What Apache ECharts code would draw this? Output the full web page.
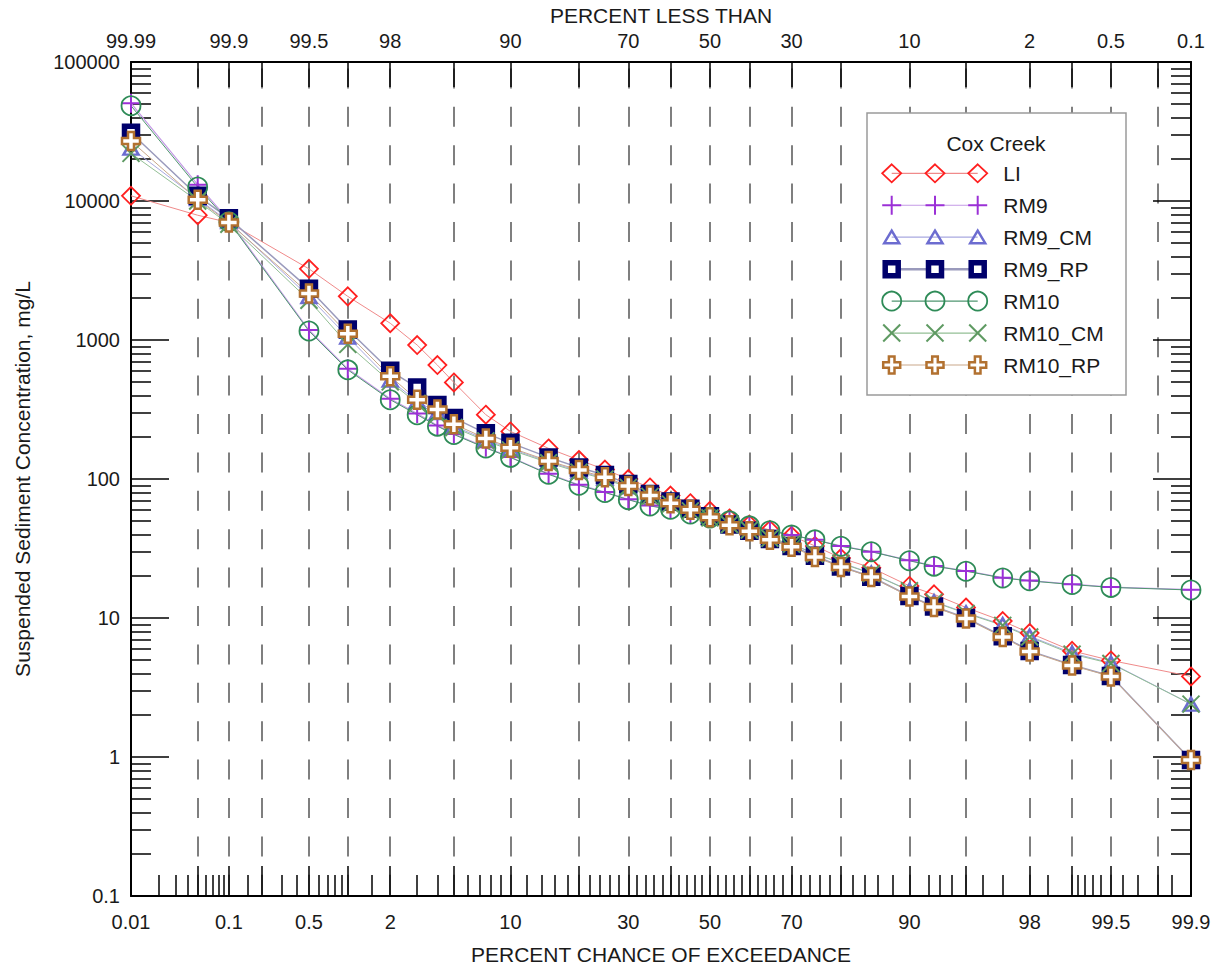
<!DOCTYPE html>
<html><head><meta charset="utf-8">
<script src="https://cdn.jsdelivr.net/npm/echarts@6/dist/echarts.min.js"></script>
<style>html,body{margin:0;padding:0;background:#fff}#c{width:1222px;height:970px}</style>
</head><body><div id="c"></div>
<script>
// ---------- data ----------
const percentExceed = [0.01, 0.05, 0.1, 0.5, 1, 2, 3, 4, 5, 7.5, 10, 15, 20, 25, 30, 35, 40, 45, 50, 55, 60, 65, 70, 75, 80, 85, 90, 92.5, 95, 97, 98, 99, 99.5, 99.9];
const LI      = [10900, 7900, 7000, 3250, 2060, 1320, 920, 660, 495, 290, 220, 166, 137, 117, 100, 87, 76, 67, 59, 52, 47, 43, 39, 33, 27, 23, 17, 14.8, 11.9, 9.5, 7.8, 5.8, 4.95, 3.8];
const RM9     = [50500, 13100, 7250, 1180, 620, 378, 296, 243, 211, 169, 144, 109, 91, 80.5, 71.5, 64.5, 60.5, 56, 53, 50, 46, 42.5, 39.5, 36.5, 33, 30, 26, 23.7, 21.8, 19.5, 18.6, 17.5, 16.7, 16];
const RM9_CM  = [24000, 10400, 7100, 2050, 1050, 515, 362, 300, 240, 192, 165, 133, 114, 101, 88, 76, 67, 60, 53, 47, 43, 37.5, 34, 29, 25, 21, 15.8, 13.1, 10.9, 8.95, 7.4, 5.6, 4.75, 2.4];
const RM9_RP  = [31000, 10900, 7500, 2340, 1190, 600, 455, 340, 275, 213, 182, 143, 121, 107, 92, 78, 69, 61, 54, 47, 42.5, 37, 33, 28, 23.5, 19.8, 14.4, 12.1, 10, 7.4, 5.8, 4.6, 3.83, 0.95];
const RM10    = [48500, 12600, 7100, 1160, 610, 372, 290, 240, 209, 167, 143, 108, 90, 80, 71, 64, 60.5, 56, 52.5, 50, 46, 42.5, 39.5, 36.5, 32.8, 30, 25.8, 23.6, 21.7, 19.4, 18.5, 17.4, 16.6, 15.9];
const RM10_CM = [22000, 10000, 6800, 1930, 930, 500, 350, 290, 235, 188, 162, 131, 112, 100, 87, 75, 66, 59, 52.5, 47, 43, 37.5, 34, 29, 24.8, 20.9, 15.7, 13, 10.8, 8.85, 7.3, 5.5, 4.7, 2.4];
const RM10_RP = [27000, 10200, 7000, 2160, 1110, 548, 372, 316, 248, 196, 168, 135, 116, 103, 89, 76, 67, 60, 53, 46.5, 42, 36.5, 32.5, 27.5, 23.3, 19.7, 14.3, 12, 9.9, 7.3, 5.75, 4.55, 3.8, 0.95];

const bottomTickLabels = ['0.01', '0.1', '0.5', '2', '10', '30', '50', '70', '90', '98', '99.5', '99.9'];
const topTickLabels    = ['99.99', '99.9', '99.5', '98', '90', '70', '50', '30', '10', '2', '0.5', '0.1'];
const gridPercents  = [0.01, 0.05, 0.1, 0.2, 0.5, 1, 2, 5, 10, 20, 30, 40, 50, 60, 70, 80, 90, 95, 98, 99, 99.5, 99.8, 99.9];
const minorPercents = [0.02, 0.03, 0.04, 0.06, 0.07, 0.08, 0.09, 0.15, 0.3, 0.4, 0.6, 0.7, 0.8, 0.9, 1.5, 3, 4, 6, 7, 8, 9,
  12, 14, 16, 18, 22, 24, 26, 28, 32, 34, 36, 38, 42, 44, 46, 48, 52, 54, 56, 58, 62, 64, 66, 68, 72, 74, 76, 78,
  82, 84, 86, 88, 92, 93, 94, 96, 97, 98.5, 99.1, 99.2, 99.3, 99.4, 99.6, 99.7, 99.85];
const yTickLabels = ['0.1', '1', '10', '100', '1000', '10000', '100000'];
const yMajor = [0.1, 1, 10, 100, 1000, 10000, 100000];
const yMinor = [];
for (let d = -1; d < 5; d++) for (let k = 2; k <= 9; k++) yMinor.push(+(k * Math.pow(10, d)).toPrecision(3));

// ---------- normal probability scale ----------
function probit(p) {
  const a = [-3.969683028665376e+01, 2.209460984245205e+02, -2.759285104469687e+02, 1.383577518672690e+02, -3.066479806614716e+01, 2.506628277459239e+00];
  const b = [-5.447609879822406e+01, 1.615858368580409e+02, -1.556989798598866e+02, 6.680131188771972e+01, -1.328068155288572e+01];
  const c = [-7.784894002430293e-03, -3.223964580411365e-01, -2.400758277161838e+00, -2.549732539343734e+00, 4.374664141464968e+00, 2.938163982698783e+00];
  const d = [7.784695709041462e-03, 3.224671290700398e-01, 2.445134137142996e+00, 3.754408661907416e+00];
  const pl = 0.02425, ph = 1 - pl;
  let q, r;
  if (p < pl) { q = Math.sqrt(-2 * Math.log(p)); return (((((c[0]*q+c[1])*q+c[2])*q+c[3])*q+c[4])*q+c[5]) / ((((d[0]*q+d[1])*q+d[2])*q+d[3])*q+1); }
  if (p <= ph) { q = p - 0.5; r = q*q; return (((((a[0]*r+a[1])*r+a[2])*r+a[3])*r+a[4])*r+a[5])*q / (((((b[0]*r+b[1])*r+b[2])*r+b[3])*r+b[4])*r+1); }
  q = Math.sqrt(-2 * Math.log(1 - p)); return -(((((c[0]*q+c[1])*q+c[2])*q+c[3])*q+c[4])*q+c[5]) / ((((d[0]*q+d[1])*q+d[2])*q+d[3])*q+1);
}
const z = pct => probit(pct / 100);
const xMin = z(0.01), xMax = z(99.9);
const gridZ = gridPercents.map(z);
const minorZ = minorPercents.map(z);
const majorZ = bottomTickLabels.map(s => z(parseFloat(s)));
function labelFor(list) {
  return v => { let best = 0, bd = 1e9; majorZ.forEach((m, i) => { const dd = Math.abs(m - v); if (dd < bd) { bd = dd; best = i; } }); return list[best]; };
}

const FONT = '"Liberation Sans", Arial, Helvetica, sans-serif';
const TXT = '#1a1a1a';

// ---------- series styling ----------
const P = {
  diamond: 'path://M0,-10L10,0L0,10L-10,0Z',
  plus: 'path://M-10,0L10,0M0,-10L0,10',
  x: 'path://M-10,-10L10,10M-10,10L10,-10',
  cross: 'path://M-3,-9L3,-9L3,-3L9,-3L9,3L3,3L3,9L-3,9L-3,3L-9,3L-9,-3L-3,-3Z',
  tri: 'path://M0,-9L10,8L-10,8Z'
};
const seriesDefs = [
  { name: 'LI', data: LI, symbol: P.diamond, size: 18, fill: 'rgba(0,0,0,0)', stroke: '#ff2020', bw: 1.8, line: '#f08a8a', lw: 1 },
  { name: 'RM9', data: RM9, symbol: P.plus, size: 19, fill: 'rgba(0,0,0,0)', stroke: '#9b30d6', bw: 2, line: '#c49ae6', lw: 1.2 },
  { name: 'RM9_CM', data: RM9_CM, symbol: P.tri, size: [15, 13], fill: 'rgba(0,0,0,0)', stroke: '#6c6cd0', bw: 2.5, line: '#a9a9e0', lw: 1 },
  { name: 'RM9_RP', data: RM9_RP, symbol: 'rect', size: 13, fill: '#ffffff', stroke: '#00006b', bw: 5.5, line: '#9a9abc', lw: 1.5 },
  { name: 'RM10', data: RM10, symbol: 'circle', size: 19, fill: 'rgba(0,0,0,0)', stroke: '#2e8b57', bw: 1.8, line: '#4f9670', lw: 1 },
  { name: 'RM10_CM', data: RM10_CM, symbol: P.x, size: 17, fill: 'rgba(0,0,0,0)', stroke: '#5e9a62', bw: 2, line: '#93bf95', lw: 1 },
  { name: 'RM10_RP', data: RM10_RP, symbol: P.cross, size: 18, fill: '#ffffff', stroke: '#b27130', bw: 2.5, line: '#c9a88a', lw: 1 }
];

const series = seriesDefs.map(s => ({
  name: s.name, type: 'line', xAxisIndex: 0, yAxisIndex: 0,
  data: percentExceed.map((p, i) => [z(p), s.data[i]]),
  symbol: s.symbol, symbolSize: s.size, showSymbol: true, showAllSymbol: true,
  clip: false, silent: true, animation: false,
  lineStyle: { color: s.line, width: s.lw },
  itemStyle: { color: s.fill, borderColor: s.stroke, borderWidth: s.bw },
  emphasis: { disabled: true }
}));

// ---------- legend drawn as graphics ----------
const legendEls = [];
const LX = 867, LY = 113, LW = 259, LH = 282;
legendEls.push({ type: 'rect', shape: { x: LX, y: LY, width: LW, height: LH }, style: { fill: '#fff', stroke: '#9a9a9a', lineWidth: 1.5 }, z: 100 });
legendEls.push({ type: 'text', x: 996, y: 143, style: { text: 'Cox Creek', font: '21px ' + FONT, fill: TXT, align: 'center', verticalAlign: 'middle' }, z: 101 });
const mx = [891.7, 935, 977.7];
function markerEls(kind, cx, cy, s) {
  const st = { stroke: s.stroke, lineWidth: s.bw, fill: s.fill === '#ffffff' ? '#fff' : 'none' };
  switch (kind) {
    case 'LI': return [{ type: 'polygon', shape: { points: [[cx, cy - 9], [cx + 9.5, cy], [cx, cy + 9], [cx - 9.5, cy]] }, style: st }];
    case 'RM9': return [{ type: 'line', shape: { x1: cx - 9.5, y1: cy, x2: cx + 9.5, y2: cy }, style: st }, { type: 'line', shape: { x1: cx, y1: cy - 9.5, x2: cx, y2: cy + 9.5 }, style: st }];
    case 'RM9_CM': return [{ type: 'polygon', shape: { points: [[cx, cy - 6.5], [cx + 7.5, cy + 6], [cx - 7.5, cy + 6]] }, style: st }];
    case 'RM9_RP': return [{ type: 'rect', shape: { x: cx - 6.5, y: cy - 6.5, width: 13, height: 13 }, style: st }];
    case 'RM10': return [{ type: 'circle', shape: { cx: cx, cy: cy, r: 9.5 }, style: st }];
    case 'RM10_CM': return [{ type: 'line', shape: { x1: cx - 8.5, y1: cy - 8.5, x2: cx + 8.5, y2: cy + 8.5 }, style: st }, { type: 'line', shape: { x1: cx - 8.5, y1: cy + 8.5, x2: cx + 8.5, y2: cy - 8.5 }, style: st }];
    case 'RM10_RP': { const a = 2.8, b = 8.5; return [{ type: 'polygon', shape: { points: [[cx - a, cy - b], [cx + a, cy - b], [cx + a, cy - a], [cx + b, cy - a], [cx + b, cy + a], [cx + a, cy + a], [cx + a, cy + b], [cx - a, cy + b], [cx - a, cy + a], [cx - b, cy + a], [cx - b, cy - a], [cx - a, cy - a]] }, style: st }]; }
  }
  return [];
}
seriesDefs.forEach((s, i) => {
  const cy = 173.3 + i * 31.95;
  legendEls.push({ type: 'line', shape: { x1: mx[0], y1: cy, x2: mx[2], y2: cy }, style: { stroke: s.line, lineWidth: s.name === 'RM9_RP' ? 2.5 : 1.2 }, z: 101 });
  mx.forEach(x => markerEls(s.name, x, cy, s).forEach(e => { e.z = 102; legendEls.push(e); }));
  legendEls.push({ type: 'text', x: 1003.3, y: cy, style: { text: s.name, font: '21px ' + FONT, fill: TXT, align: 'left', verticalAlign: 'middle' }, z: 101 });
});

// ---------- chart ----------
const lblStyle = { fontFamily: FONT, fontSize: 20, color: TXT };
const axLine = { show: true, onZero: false, lineStyle: { color: '#000', width: 2 } };
const noLine = { show: false, onZero: false };
const option = {
  backgroundColor: '#fff',
  animation: false,
  grid: { left: 131, right: 31, top: 60, bottom: 70 },
  xAxis: [
    { type: 'value', position: 'bottom', min: xMin, max: xMax,
      name: 'PERCENT CHANCE OF EXCEEDANCE', nameLocation: 'middle', nameGap: 48,
      nameTextStyle: { fontFamily: FONT, fontSize: 21, color: TXT },
      axisLine: axLine,
      axisTick: { show: true, inside: true, length: 30, customValues: gridZ, lineStyle: { color: '#000', width: 1.5 } },
      axisLabel: { show: true, customValues: majorZ, formatter: labelFor(bottomTickLabels), margin: 16, hideOverlap: false, showMinLabel: true, showMaxLabel: true, ...lblStyle },
      splitLine: { show: true, lineStyle: { color: '#7f7f7f', width: 2, type: [20, 18.4], dashOffset: 32 } },
      minorTick: { show: false }
    },
    { type: 'value', position: 'bottom', min: xMin, max: xMax,
      axisLine: noLine,
      axisTick: { show: true, inside: true, length: 21, customValues: minorZ, lineStyle: { color: '#000', width: 1.5 } },
      axisLabel: { show: false }, splitLine: { show: false }
    },
    { type: 'value', position: 'top', min: xMin, max: xMax,
      name: 'PERCENT LESS THAN', nameLocation: 'middle', nameGap: 36,
      nameTextStyle: { fontFamily: FONT, fontSize: 21, color: TXT },
      axisLine: axLine,
      axisTick: { show: true, inside: true, length: 25, customValues: gridZ, lineStyle: { color: '#000', width: 1.5 } },
      axisLabel: { show: true, customValues: majorZ, formatter: labelFor(topTickLabels), margin: 11, hideOverlap: false, showMinLabel: true, showMaxLabel: true, ...lblStyle },
      splitLine: { show: false }
    }
  ],
  yAxis: [
    { type: 'log', logBase: 10, position: 'left', min: 0.1, max: 100000,
      name: 'Suspended Sediment Concentration, mg/L', nameLocation: 'middle', nameGap: 98, nameRotate: 90,
      nameTextStyle: { fontFamily: '"Liberation Sans Narrow", "Arial Narrow", ' + FONT, fontSize: 21, color: TXT },
      axisLine: axLine,
      axisTick: { show: true, inside: true, length: 38, customValues: yMajor, lineStyle: { color: '#000', width: 1.5 } },
      axisLabel: { show: true, customValues: yMajor, formatter: v => { let bi = 0, bd = 1e9; yMajor.forEach((m, i) => { const dd = Math.abs(Math.log10(m) - Math.log10(v)); if (dd < bd) { bd = dd; bi = i; } }); return yTickLabels[bi]; }, margin: 11, showMinLabel: true, showMaxLabel: true, ...lblStyle },
      splitLine: { show: false }, minorTick: { show: false }
    },
    { type: 'log', logBase: 10, position: 'left', min: 0.1, max: 100000,
      axisLine: noLine,
      axisTick: { show: true, inside: true, length: 20, customValues: yMinor, lineStyle: { color: '#000', width: 1.5 } },
      axisLabel: { show: false }, splitLine: { show: false }
    },
    { type: 'log', logBase: 10, position: 'right', min: 0.1, max: 100000,
      axisLine: axLine,
      axisTick: { show: true, inside: true, length: 38, customValues: yMajor, lineStyle: { color: '#000', width: 1.5 } },
      axisLabel: { show: false }, splitLine: { show: false }
    },
    { type: 'log', logBase: 10, position: 'right', min: 0.1, max: 100000,
      axisLine: noLine,
      axisTick: { show: true, inside: true, length: 20, customValues: yMinor, lineStyle: { color: '#000', width: 1.5 } },
      axisLabel: { show: false }, splitLine: { show: false }
    }
  ],
  graphic: { elements: legendEls },
  series: series
};
const chart = echarts.init(document.getElementById('c'), null, { renderer: 'svg' });
chart.setOption(option);
</script>
</body></html>
